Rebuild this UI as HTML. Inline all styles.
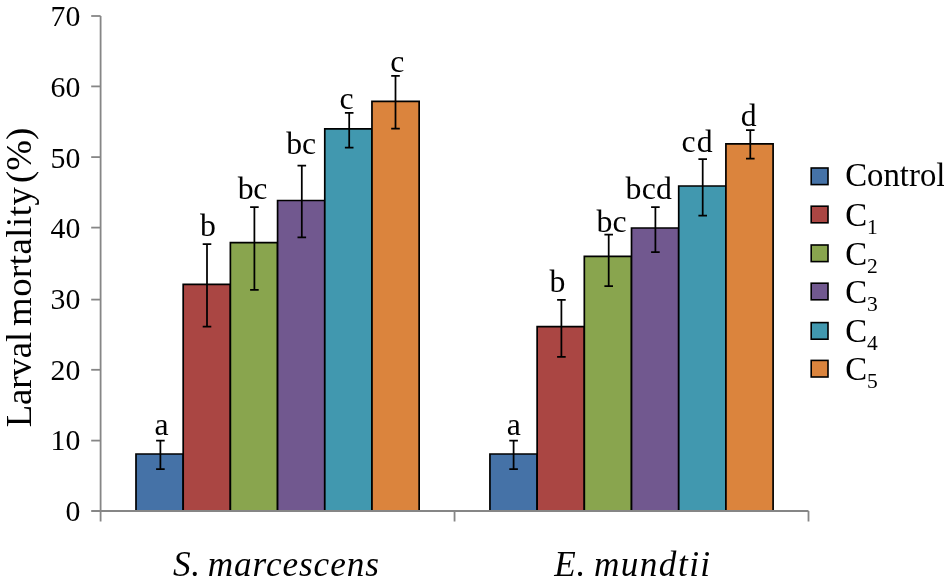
<!DOCTYPE html>
<html lang="en"><head><meta charset="utf-8"><title>Larval mortality chart</title>
<style>html,body{margin:0;padding:0;background:#fff}body{width:944px;height:587px;overflow:hidden}svg{display:block;will-change:transform}text{font-family:"Liberation Serif","Times New Roman",serif;fill:#000}</style></head><body>
<svg width="944" height="587" viewBox="0 0 944 587">
<rect x="136.00" y="454.00" width="47.19" height="57.00" fill="#4572A7"/>
<path d="M136.00 511.0V454.00h47.19V511.0" fill="none" stroke="#000" stroke-width="1.7"/>
<rect x="183.19" y="284.40" width="47.19" height="226.60" fill="#AA4643"/>
<path d="M183.19 511.0V284.40h47.19V511.0" fill="none" stroke="#000" stroke-width="1.7"/>
<rect x="230.38" y="242.70" width="47.19" height="268.30" fill="#89A54E"/>
<path d="M230.38 511.0V242.70h47.19V511.0" fill="none" stroke="#000" stroke-width="1.7"/>
<rect x="277.58" y="200.50" width="47.19" height="310.50" fill="#71588F"/>
<path d="M277.58 511.0V200.50h47.19V511.0" fill="none" stroke="#000" stroke-width="1.7"/>
<rect x="324.77" y="128.80" width="47.19" height="382.20" fill="#4198AF"/>
<path d="M324.77 511.0V128.80h47.19V511.0" fill="none" stroke="#000" stroke-width="1.7"/>
<rect x="371.96" y="101.30" width="47.19" height="409.70" fill="#DB843D"/>
<path d="M371.96 511.0V101.30h47.19V511.0" fill="none" stroke="#000" stroke-width="1.7"/>
<path d="M160.40 440.60V469.20M156.10 440.60h8.6M156.10 469.20h8.6" stroke="#000" stroke-width="1.75" fill="none"/>
<text transform="translate(154.55 435) scale(1 1.015)" font-size="31.8">a</text>
<path d="M207.00 244.10V326.60M202.70 244.10h8.6M202.70 326.60h8.6" stroke="#000" stroke-width="1.75" fill="none"/>
<text transform="translate(200.01 236) scale(1 1.015)" font-size="31.8">b</text>
<path d="M254.40 207.20V289.80M250.10 207.20h8.6M250.10 289.80h8.6" stroke="#000" stroke-width="1.75" fill="none"/>
<text transform="translate(237.70 199) scale(1 1.015)" font-size="31.8" letter-spacing="-0.44">bc</text>
<path d="M301.80 165.50V237.30M297.50 165.50h8.6M297.50 237.30h8.6" stroke="#000" stroke-width="1.75" fill="none"/>
<text transform="translate(286.20 154) scale(1 1.015)" font-size="31.8" letter-spacing="-0.14">bc</text>
<path d="M349.20 112.80V147.50M344.90 112.80h8.6M344.90 147.50h8.6" stroke="#000" stroke-width="1.75" fill="none"/>
<text transform="translate(339.43 109) scale(1 1.015)" font-size="31.8">c</text>
<path d="M395.50 75.80V128.60M391.20 75.80h8.6M391.20 128.60h8.6" stroke="#000" stroke-width="1.75" fill="none"/>
<text transform="translate(390.18 72) scale(1 1.015)" font-size="31.8">c</text>
<rect x="489.94" y="454.00" width="47.19" height="57.00" fill="#4572A7"/>
<path d="M489.94 511.0V454.00h47.19V511.0" fill="none" stroke="#000" stroke-width="1.7"/>
<rect x="537.14" y="326.60" width="47.19" height="184.40" fill="#AA4643"/>
<path d="M537.14 511.0V326.60h47.19V511.0" fill="none" stroke="#000" stroke-width="1.7"/>
<rect x="584.33" y="256.40" width="47.19" height="254.60" fill="#89A54E"/>
<path d="M584.33 511.0V256.40h47.19V511.0" fill="none" stroke="#000" stroke-width="1.7"/>
<rect x="631.52" y="228.00" width="47.19" height="283.00" fill="#71588F"/>
<path d="M631.52 511.0V228.00h47.19V511.0" fill="none" stroke="#000" stroke-width="1.7"/>
<rect x="678.72" y="186.00" width="47.19" height="325.00" fill="#4198AF"/>
<path d="M678.72 511.0V186.00h47.19V511.0" fill="none" stroke="#000" stroke-width="1.7"/>
<rect x="725.91" y="143.90" width="47.19" height="367.10" fill="#DB843D"/>
<path d="M725.91 511.0V143.90h47.19V511.0" fill="none" stroke="#000" stroke-width="1.7"/>
<path d="M513.60 440.60V469.20M509.30 440.60h8.6M509.30 469.20h8.6" stroke="#000" stroke-width="1.75" fill="none"/>
<text transform="translate(506.70 435) scale(1 1.015)" font-size="31.8">a</text>
<path d="M561.40 299.90V356.80M557.10 299.90h8.6M557.10 356.80h8.6" stroke="#000" stroke-width="1.75" fill="none"/>
<text transform="translate(549.56 292) scale(1 1.015)" font-size="31.8">b</text>
<path d="M608.70 234.70V286.10M604.40 234.70h8.6M604.40 286.10h8.6" stroke="#000" stroke-width="1.75" fill="none"/>
<text transform="translate(596.60 232) scale(1 1.015)" font-size="31.8" letter-spacing="-0.04">bc</text>
<path d="M655.40 207.10V252.10M651.10 207.10h8.6M651.10 252.10h8.6" stroke="#000" stroke-width="1.75" fill="none"/>
<text transform="translate(625.60 199) scale(1 1.015)" font-size="31.8" letter-spacing="0.24">bcd</text>
<path d="M702.70 159.00V215.50M698.40 159.00h8.6M698.40 215.50h8.6" stroke="#000" stroke-width="1.75" fill="none"/>
<text transform="translate(681.58 152) scale(1 1.015)" font-size="31.8" letter-spacing="1.00">cd</text>
<path d="M750.30 130.00V158.70M746.00 130.00h8.6M746.00 158.70h8.6" stroke="#000" stroke-width="1.75" fill="none"/>
<text transform="translate(740.87 126) scale(1 1.015)" font-size="31.8">d</text>
<path d="M100.60 16V521.6M91.2 511.0H808.50M454.55 511.0V521.6M808.50 511.0V521.6" stroke="#868686" stroke-width="1.8" fill="none"/>
<path d="M91.2 440.60H100.60" stroke="#868686" stroke-width="1.8"/>
<path d="M91.2 369.80H100.60" stroke="#868686" stroke-width="1.8"/>
<path d="M91.2 299.60H100.60" stroke="#868686" stroke-width="1.8"/>
<path d="M91.2 227.60H100.60" stroke="#868686" stroke-width="1.8"/>
<path d="M91.2 157.10H100.60" stroke="#868686" stroke-width="1.8"/>
<path d="M91.2 86.40H100.60" stroke="#868686" stroke-width="1.8"/>
<path d="M91.2 16.00H100.60" stroke="#868686" stroke-width="1.8"/>
<text transform="translate(80.3 521) scale(1 1.015)" font-size="29.8" text-anchor="end">0</text>
<text transform="translate(80.3 450) scale(1 1.015)" font-size="29.8" text-anchor="end">10</text>
<text transform="translate(80.3 380) scale(1 1.015)" font-size="29.8" text-anchor="end">20</text>
<text transform="translate(80.3 309) scale(1 1.015)" font-size="29.8" text-anchor="end">30</text>
<text transform="translate(80.3 238) scale(1 1.015)" font-size="29.8" text-anchor="end">40</text>
<text transform="translate(80.3 168) scale(1 1.015)" font-size="29.8" text-anchor="end">50</text>
<text transform="translate(80.3 97) scale(1 1.015)" font-size="29.8" text-anchor="end">60</text>
<text transform="translate(80.3 26) scale(1 1.015)" font-size="29.8" text-anchor="end">70</text>
<text transform="translate(30.7 427.0) rotate(-90)" y="0" font-size="36.8"><tspan x="-0.36" letter-spacing="-0.11">Larval </tspan><tspan x="101.03" letter-spacing="0.49">mortality </tspan><tspan x="244.08" letter-spacing="-0.01">(%)</tspan></text>
<text y="575.9" font-size="35.2" font-style="italic"><tspan x="172.89" letter-spacing="0.69">S. </tspan><tspan x="207.73" letter-spacing="0.93">marcescens</tspan></text>
<text y="575.9" font-size="35.2" font-style="italic"><tspan x="554.31" letter-spacing="0.67">E. </tspan><tspan x="593.93" letter-spacing="1.45">mundtii</tspan></text>
<rect x="811.2" y="168.00" width="16.8" height="16.6" fill="#4572A7" stroke="#000" stroke-width="1.6"/>
<text x="845.2" y="186.30" font-size="32.8">Control</text>
<rect x="811.2" y="206.20" width="16.8" height="16.6" fill="#AA4643" stroke="#000" stroke-width="1.6"/>
<text x="845.2" y="225.50" font-size="32.8">C<tspan font-size="21.5" dy="8.0">1</tspan></text>
<rect x="811.2" y="245.00" width="16.8" height="16.6" fill="#89A54E" stroke="#000" stroke-width="1.6"/>
<text x="845.2" y="264.70" font-size="32.8">C<tspan font-size="21.5" dy="8.0">2</tspan></text>
<rect x="811.2" y="283.20" width="16.8" height="16.6" fill="#71588F" stroke="#000" stroke-width="1.6"/>
<text x="845.2" y="303.10" font-size="32.8">C<tspan font-size="21.5" dy="8.0">3</tspan></text>
<rect x="811.2" y="322.60" width="16.8" height="16.6" fill="#4198AF" stroke="#000" stroke-width="1.6"/>
<text x="845.2" y="341.80" font-size="32.8">C<tspan font-size="21.5" dy="8.0">4</tspan></text>
<rect x="811.2" y="360.40" width="16.8" height="16.6" fill="#DB843D" stroke="#000" stroke-width="1.6"/>
<text x="845.2" y="380.40" font-size="32.8">C<tspan font-size="21.5" dy="8.0">5</tspan></text>
</svg></body></html>
